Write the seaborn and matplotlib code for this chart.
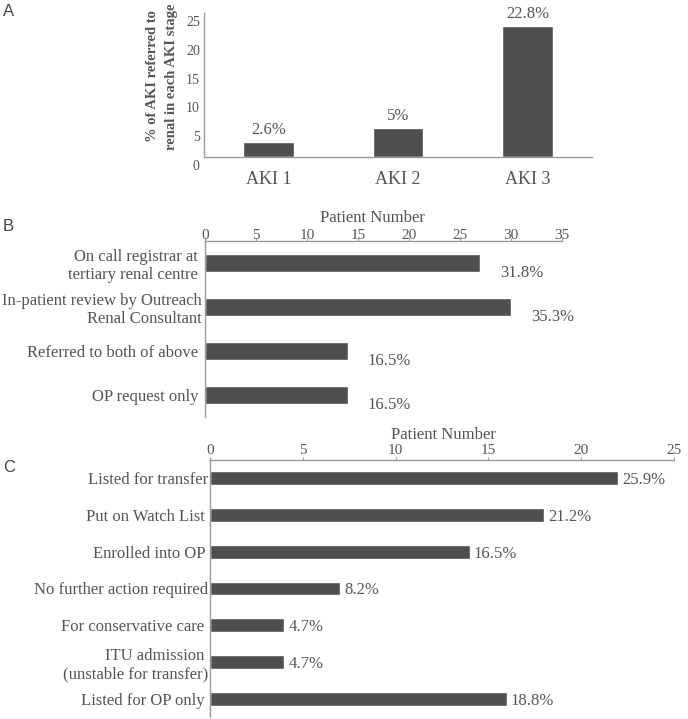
import numpy as np
import pandas as pd
import matplotlib.pyplot as plt
import matplotlib.transforms as mtransforms
import seaborn as sns

# Panel A: % of AKI referred to renal, per AKI stage
aki_stages = ["AKI 1", "AKI 2", "AKI 3"]
aki_referred_pct = [2.6, 5.0, 22.8]
aki_labels = ["2.6%", "5%", "22.8%"]

# Panel B: referral routes (patient number)
referral_routes = [
    "On call registrar at \ntertiary renal centre ",
    "In-patient review by Outreach\nRenal Consultant",
    "Referred to both of above ",
    "OP request only ",
]
referral_patients = [27, 30, 14, 14]
referral_labels = ["31.8%", "35.3%", "16.5%", "16.5%"]

# Panel C: outcome of referral (patient number)
outcomes = [
    "Listed for transfer",
    "Put on Watch List ",
    "Enrolled into OP ",
    "No further action required",
    "For conservative care ",
    "ITU admission \n(unstable for transfer)",
    "Listed for OP only ",
]
outcome_patients = [22, 18, 14, 7, 4, 4, 16]
outcome_labels = ["25.9%", "21.2%", "16.5%", "8.2%", "4.7%", "4.7%", "18.8%"]

sns.set_style("white")
plt.rcParams["font.family"] = ["Liberation Serif", "DejaVu Serif"]

text_col = "#555555"
bar_col = "#4f4f4f"
spine_col = "#9a9a9a"

W, H = 688, 719
fig = plt.figure(figsize=(W / 100, H / 100), dpi=100)


def px_axes(left, top, right, bottom):
    return fig.add_axes([left / W, 1 - bottom / H, (right - left) / W, (bottom - top) / H])


def style_spines(ax, keep):
    for side, sp in ax.spines.items():
        sp.set_visible(side in keep)
        sp.set_color(spine_col)
        sp.set_linewidth(1)


# ---------- A ----------
ax_a = px_axes(204, 13, 592, 157)
sns.barplot(x=aki_stages, y=aki_referred_pct, color=bar_col, saturation=1,
            width=0.39, ax=ax_a)
ax_a.set_ylim(0, 25)
ax_a.set_yticks(range(0, 26, 5))
ax_a.set_xticks([0.5, 1.5, 2.5], minor=True)
style_spines(ax_a, ["left", "bottom"])
ax_a.tick_params(axis="y", length=0, pad=3, labelsize=10, labelcolor=text_col)
ax_a.tick_params(axis="x", which="major", length=0, pad=10, labelsize=13, labelcolor=text_col)
ax_a.tick_params(axis="x", which="minor", length=2, direction="in", color=spine_col)
ax_a.bar_label(ax_a.containers[0], labels=aki_labels, padding=3, fontsize=12, color=text_col)
ax_a.set_xlabel("")
ax_a.set_ylabel("% of AKI referred to\nrenal in each AKI stage", fontsize=10.5,
                fontweight="bold", color=text_col, linespacing=1.65)
ax_a.yaxis.set_label_coords(-0.066, 0.56)
shift = mtransforms.ScaledTranslation(0, -8 / 100, fig.dpi_scale_trans)
for lab in ax_a.get_yticklabels():
    lab.set_transform(lab.get_transform() + shift)

# ---------- B ----------
ax_b = px_axes(205, 241, 562, 417)
sns.barplot(x=referral_patients, y=referral_routes, orient="h", color=bar_col,
            saturation=1, width=0.39, ax=ax_b)
ax_b.set_xlim(0, 35)
ax_b.set_xticks(range(0, 36, 5))
ax_b.xaxis.tick_top()
ax_b.set_yticks(np.arange(-0.5, len(referral_routes)), minor=True)
style_spines(ax_b, ["left", "top"])
ax_b.tick_params(axis="x", length=2, pad=-2.5, labelsize=11, labelcolor=text_col, color=spine_col)
ax_b.tick_params(axis="y", which="major", length=0, pad=2, labelsize=12, labelcolor=text_col)
ax_b.tick_params(axis="y", which="minor", length=3, color=spine_col)
ax_b.set_ylabel("")
ax_b.xaxis.set_label_position("top")
ax_b.set_xlabel("Patient Number", fontsize=12, color=text_col)
ax_b.xaxis.set_label_coords(0.47, 1.11)
for bar, lab in zip(ax_b.patches, referral_labels):
    ax_b.annotate(lab, (bar.get_width(), bar.get_y() + bar.get_height() / 2),
                  xytext=(20, -10), textcoords="offset pixels",
                  ha="left", va="center", fontsize=12, color=text_col)

# ---------- C ----------
ax_c = px_axes(210, 460, 674, 717)
sns.barplot(x=outcome_patients, y=outcomes, orient="h", color=bar_col,
            saturation=1, width=0.38, ax=ax_c)
ax_c.set_xlim(0, 25)
ax_c.set_xticks(range(0, 26, 5))
ax_c.xaxis.tick_top()
ax_c.set_yticks(np.arange(-0.5, len(outcomes)), minor=True)
style_spines(ax_c, ["left", "top"])
ax_c.tick_params(axis="x", length=2, pad=0, labelsize=11, labelcolor=text_col, color=spine_col)
ax_c.tick_params(axis="y", which="major", length=0, pad=1, labelsize=12, labelcolor=text_col)
ax_c.tick_params(axis="y", which="minor", length=3, color=spine_col)
ax_c.set_ylabel("")
ax_c.xaxis.set_label_position("top")
ax_c.set_xlabel("Patient Number", fontsize=12, color=text_col)
ax_c.xaxis.set_label_coords(0.504, 1.08)
for bar, lab in zip(ax_c.patches, outcome_labels):
    ax_c.annotate(lab, (bar.get_width(), bar.get_y() + bar.get_height() / 2),
                  xytext=(4, -2), textcoords="offset pixels",
                  ha="left", va="center", fontsize=12, color=text_col)

# panel letters
for letter, top in [("A", 4), ("B", 219), ("C", 460)]:
    fig.text(3 / W, 1 - top / H, letter, family="Liberation Sans", fontsize=12,
             color="#444444", va="top", ha="left")

fig.savefig("out.png", dpi=100)
